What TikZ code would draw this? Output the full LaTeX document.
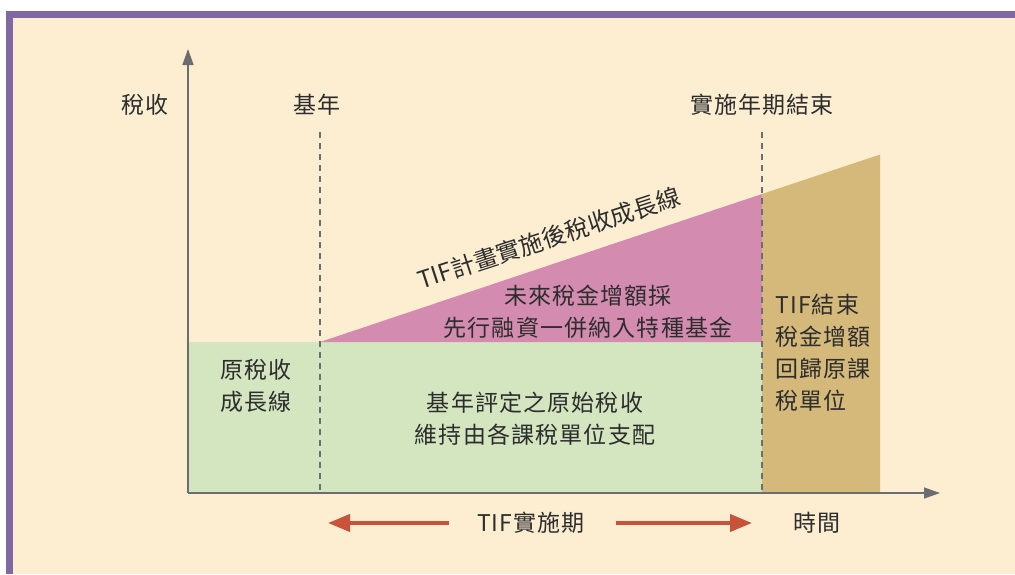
\documentclass[tikz,border=0pt]{standalone}
\usepackage{fontspec}
\setmainfont{Noto Sans CJK TC}
\newfontfamily\cjkfont[LetterSpace=5]{Noto Sans CJK TC}
\newfontfamily\cjkplain{Noto Sans CJK TC}
\usetikzlibrary{arrows.meta}
\definecolor{purp}{RGB}{128,104,162}
\definecolor{cream}{RGB}{253,238,210}
\definecolor{grn}{RGB}{211,230,192}
\definecolor{pnk}{RGB}{211,139,175}
\definecolor{gld}{RGB}{212,185,122}
\definecolor{redarr}{RGB}{200,82,58}
\definecolor{axisgray}{RGB}{108,109,113}
\definecolor{txt}{RGB}{45,45,45}
\begin{document}
\begin{tikzpicture}[x=1pt,y=-1pt,
  lbl/.style={text=txt, font=\cjkfont\fontsize{23}{32}\selectfont, inner sep=0pt, align=center},
  slopelbl/.style={text=txt, font=\cjkplain\fontsize{24}{30}\selectfont, inner sep=0pt},
  axisline/.style={draw=axisgray, line width=1.5pt, -{Triangle[length=16pt,width=11pt]}},
  dashline/.style={draw=axisgray, line width=1.4pt, dash pattern=on 6pt off 5pt},
  redarrow/.style={draw=redarr, line width=4pt, -{Triangle[length=22pt,width=17pt]}}]
\useasboundingbox (0,0) rectangle (1015,574);
\fill[white] (0,0) rectangle (1015,574);
\fill[purp] (6,11) rectangle (1015,574);
\fill[cream] (13,18) rectangle (1015,574);
% areas
\fill[grn] (188,342) rectangle (762,493);
\fill[pnk] (320,342) -- (762,194) -- (762,342) -- cycle;
\fill[gld] (762,493) -- (762,194) -- (880,154.5) -- (880,493) -- cycle;
% dashed lines
\coordinate (b1) at (320,132);
\coordinate (b2) at (320,493);
\coordinate (e1) at (762,132);
\coordinate (e2) at (762,493);
\draw[dashline] (b1) -- (b2);
\draw[dashline] (e1) -- (e2);
% axes
\coordinate (O) at (188,493);
\coordinate (ytip) at (188,49);
\coordinate (xtip) at (940,493);
\draw[axisline] (O) -- (ytip);
\draw[axisline] (O) -- (xtip);
% labels
\node[lbl] (ylab) at (145,105) {稅收};
\node[lbl] (base) at (317,105) {基年};
\node[lbl] (endlab) at (762,105) {實施年期結束};
\node[lbl] (xlab) at (817,523) {時間};
\node[lbl] (period) at (531,523) {TIF實施期};
\node[lbl] (orig) at (256,386) {原稅收\\成長線};
\node[lbl] (basetax) at (535,419) {基年評定之原始稅收\\維持由各課稅單位支配};
\node[lbl] (incr) at (588,312) {未來稅金增額採\\先行融資一併納入特種基金};
\node[lbl, anchor=west, align=left] (back) at (775,353) {TIF結束\\稅金增額\\回歸原課\\稅單位};
\node[slopelbl, rotate=18] (growth) at (549,238) {TIF計畫實施後稅收成長線};
% period arrows
\coordinate (la) at (449,523);
\coordinate (lt) at (328,523);
\coordinate (ra) at (616,523);
\coordinate (rt) at (752,523);
\draw[redarrow] (la) -- (lt);
\draw[redarrow] (ra) -- (rt);
\end{tikzpicture}
\end{document}
